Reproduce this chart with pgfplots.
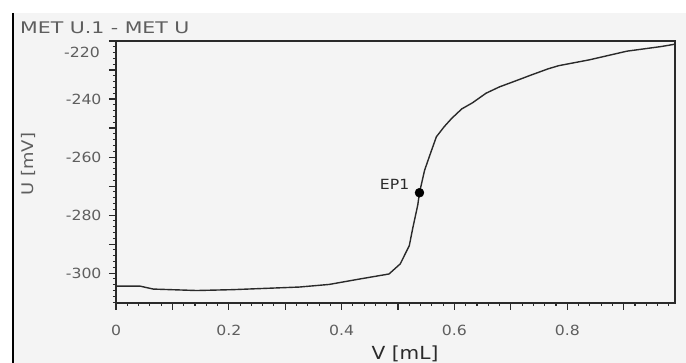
\documentclass[border=0pt]{standalone}
\usepackage{fontspec}
\setmainfont[FakeStretch=1.12]{DejaVu Sans}
\newfontfamily\titlefont[FakeStretch=1.28]{DejaVu Sans}
\usepackage{pgfplots}
\pgfplotsset{compat=1.18}
\definecolor{bg}{HTML}{F4F4F4}
\definecolor{txt}{HTML}{5E5E5E}
\definecolor{ax}{HTML}{2A2A2A}
\begin{document}
\begin{tikzpicture}
\useasboundingbox (0,0) rectangle (686pt,-363pt);
\fill[white] (0,0) rectangle (686pt,-363pt);
\fill[bg] (13pt,-13pt) rectangle (686pt,-363pt);
\draw[black, line width=1.5pt] (13pt,-13pt) -- (13pt,-363pt);
\node[anchor=base west, inner sep=0, text=txt, font=\titlefont\fontsize{16}{16}\selectfont] at (20pt,-34pt) {MET U.1 - MET U};
\node[anchor=base, rotate=90, inner sep=0, text=txt, font=\fontsize{16}{16}\selectfont] at (33pt,-164pt) {U [mV]};
\node[anchor=base, inner sep=0, text=ax, font=\fontsize{18}{18}\selectfont] at (405pt,-360pt) {V [mL]};
\begin{axis}[
  at={(116pt,-303pt)}, anchor=south west,
  scale only axis, width=559pt, height=262pt,
  xmin=0, xmax=0.991, ymin=-310.3, ymax=-220,
  axis line style={ax, line width=1.3pt},
  xtick={0,0.1,0.2,0.3,0.4,0.5,0.6,0.7,0.8,0.9},
  xticklabels={0,{},0.2,{},0.4,{},0.6,{},0.8,{}},
  ytick={-300,-290,-280,-270,-260,-250,-240,-230,-220},
  yticklabels={-300,{},-280,{},-260,{},-240,{},{}},
  minor xtick={0,0.02,...,0.98},
  minor ytick={-310,-308,...,-220},
  xtick pos=bottom, ytick pos=left,
  tick align=outside,
  major tick length=7pt, minor tick length=3pt,
  every tick/.style={ax, line width=1.1pt},
  ticklabel style={font=\fontsize{14}{14}\selectfont, text=txt},
  xticklabel style={yshift=-12pt},
  yticklabel style={xshift=-4pt},
  clip=false,
]
\addplot[ax, line width=1.4pt, mark=none, line join=round] coordinates {
(0,-304.5) (0.043,-304.5) (0.066,-305.5) (0.143,-306.0) (0.207,-305.7)
(0.325,-304.8) (0.378,-303.9) (0.430,-302.1) (0.484,-300.3) (0.504,-296.8)
(0.520,-290.5) (0.526,-284.6) (0.535,-276.5) (0.538,-272.3) (0.547,-264.6)
(0.557,-259.0) (0.568,-253.0) (0.582,-249.5) (0.595,-246.7) (0.613,-243.4)
(0.632,-241.3) (0.656,-238.0) (0.680,-235.8) (0.705,-234.0) (0.735,-231.8)
(0.766,-229.6) (0.785,-228.5) (0.839,-226.5) (0.906,-223.5)
(0.967,-221.9) (0.991,-221.1)
};
\addplot[only marks, mark=*, mark size=4.5pt, black] coordinates {(0.538,-272.3)};
\node[anchor=base east, inner sep=0, text=ax, font=\fontsize{14}{14}\selectfont, xshift=-10pt, yshift=3pt] at (axis cs:0.538,-272.3) {EP1};
\node[anchor=east, inner sep=0, text=txt, font=\fontsize{14}{14}\selectfont, xshift=-16pt] at (axis cs:0,-223.8) {-220};
\end{axis}
\begin{axis}[
  at={(116pt,-303pt)}, anchor=south west,
  scale only axis, width=559pt, height=262pt,
  xmin=0, xmax=0.991, ymin=-310.3, ymax=-220,
  hide x axis, axis y line*=right,
  axis line style={ax, line width=1.3pt},
  ytick=\empty,
  minor ytick={-310,-308,...,-220},
  tick align=center, minor tick length=3pt,
  every tick/.style={ax, line width=1.1pt},
]
\end{axis}
\end{tikzpicture}
\end{document}
